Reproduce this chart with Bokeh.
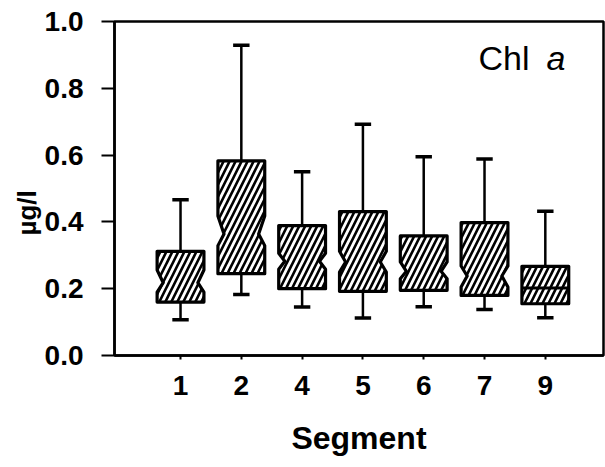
import math
from bokeh.plotting import figure
from bokeh.models import ColumnDataSource, Range1d, FixedTicker, Label, Title
from bokeh.embed import file_html
from bokeh.resources import INLINE

# ---- data (µg/l) ----
segments = ["1", "2", "4", "5", "6", "7", "9"]
whisker_low = [0.107, 0.183, 0.145, 0.112, 0.146, 0.138, 0.113]
q1 = [0.160, 0.245, 0.200, 0.192, 0.195, 0.180, 0.155]
notch_low = [0.190, 0.329, 0.258, 0.250, 0.230, 0.205, 0.202]
median = [0.218, 0.364, 0.282, 0.280, 0.252, 0.238, 0.202]
notch_high = [0.256, 0.418, 0.306, 0.312, 0.280, 0.268, 0.202]
q3 = [0.312, 0.583, 0.389, 0.431, 0.358, 0.398, 0.267]
whisker_high = [0.466, 0.929, 0.550, 0.692, 0.595, 0.588, 0.432]

y_ticks = [0.0, 0.2, 0.4, 0.6, 0.8, 1.0]
y_tick_labels = ["0.0", "0.2", "0.4", "0.6", "0.8", "1.0"]

FONT = "Liberation Sans"
BOX_W = 0.77
NOTCH_IN = 0.10
CAP_W = 0.27

xpos = list(range(len(segments)))

# box polygons (notched)
xs, ys = [], []
for i, x in enumerate(xpos):
    l, r = x - BOX_W / 2, x + BOX_W / 2
    d = NOTCH_IN if notch_high[i] > notch_low[i] else 0.0
    xs.append([l, l, l + d, l, l, r, r, r - d, r, r])
    ys.append([q1[i], notch_low[i], median[i], notch_high[i], q3[i],
               q3[i], notch_high[i], median[i], notch_low[i], q1[i]])
box_src = ColumnDataSource(dict(xs=xs, ys=ys))

p = figure(width=605, height=467, output_backend="svg", toolbar_location=None,
           x_range=Range1d(-1.086, 6.957), y_range=Range1d(0.0, 1.0),
           min_border_left=114, min_border_right=2, min_border_top=21,
           min_border_bottom=112)

p.background_fill_color = "white"
p.border_fill_color = "white"
p.outline_line_color = "black"
p.outline_line_width = 2.5
p.xgrid.visible = False
p.ygrid.visible = False

# whiskers
p.segment(x0=xpos, y0=whisker_low, x1=xpos, y1=q1, line_color="black", line_width=2.5)
p.segment(x0=xpos, y0=q3, x1=xpos, y1=whisker_high, line_color="black", line_width=2.5)
# caps
p.segment(x0=[x - CAP_W / 2 for x in xpos], y0=whisker_low,
          x1=[x + CAP_W / 2 for x in xpos], y1=whisker_low, line_color="black", line_width=3.5)
p.segment(x0=[x - CAP_W / 2 for x in xpos], y0=whisker_high,
          x1=[x + CAP_W / 2 for x in xpos], y1=whisker_high, line_color="black", line_width=3.5)

# boxes
p.patches(xs="xs", ys="ys", source=box_src, fill_color="white", line_color="black",
          line_width=3.2, line_join="round", hatch_pattern="/", hatch_color="black",
          hatch_weight=2.6, hatch_scale=12)

# median line where notch is flat
flat = [i for i in range(len(segments)) if notch_high[i] <= notch_low[i]]
p.segment(x0=[xpos[i] - BOX_W / 2 for i in flat], y0=[median[i] for i in flat],
          x1=[xpos[i] + BOX_W / 2 for i in flat], y1=[median[i] for i in flat],
          line_color="black", line_width=3)

# axes
xa = p.xaxis[0]
xa.ticker = FixedTicker(ticks=xpos)
xa.major_label_overrides = {x: s for x, s in zip(xpos, segments)}
xa.axis_line_width = 2.5
xa.major_tick_out = 4
xa.major_tick_in = 0
xa.major_tick_line_width = 2
xa.minor_tick_line_color = None
xa.major_label_standoff = 16
xa.major_label_text_font = FONT
xa.major_label_text_font_size = "28px"
xa.major_label_text_font_style = "bold"
xa.major_label_text_color = "black"
xa.axis_label = "Segment"
xa.axis_label_standoff = 22
xa.axis_label_text_font = FONT
xa.axis_label_text_font_size = "32px"
xa.axis_label_text_font_style = "bold"
xa.axis_label_text_color = "black"

ya = p.yaxis[0]
ya.ticker = FixedTicker(ticks=y_ticks)
ya.major_label_overrides = {t: s for t, s in zip(y_ticks, y_tick_labels)}
ya.axis_line_width = 2.5
ya.major_tick_out = 13
ya.major_tick_in = 0
ya.major_tick_line_width = 2
ya.minor_tick_line_color = None
ya.major_label_standoff = 18
ya.major_label_text_font = FONT
ya.major_label_text_font_size = "28px"
ya.major_label_text_font_style = "bold"
ya.major_label_text_color = "black"

# y-axis unit label, placed as a side title so it can sit below the centre
p.add_layout(Title(text="µg/l", align="left", offset=120, text_font=FONT,
                   text_font_size="26px", text_font_style="bold", text_color="black",
                   standoff=0), "left")

p.add_layout(Label(x=4.90, y=0.892, text="Chl", text_align="left",
                   text_baseline="alphabetic", text_font=FONT, text_font_size="34px",
                   text_color="black"))
p.add_layout(Label(x=6.02, y=0.892, text="a", text_align="left",
                   text_baseline="alphabetic", text_font=FONT, text_font_size="34px",
                   text_font_style="italic", text_color="black"))

open("out.html", "w").write(file_html(p, INLINE))
